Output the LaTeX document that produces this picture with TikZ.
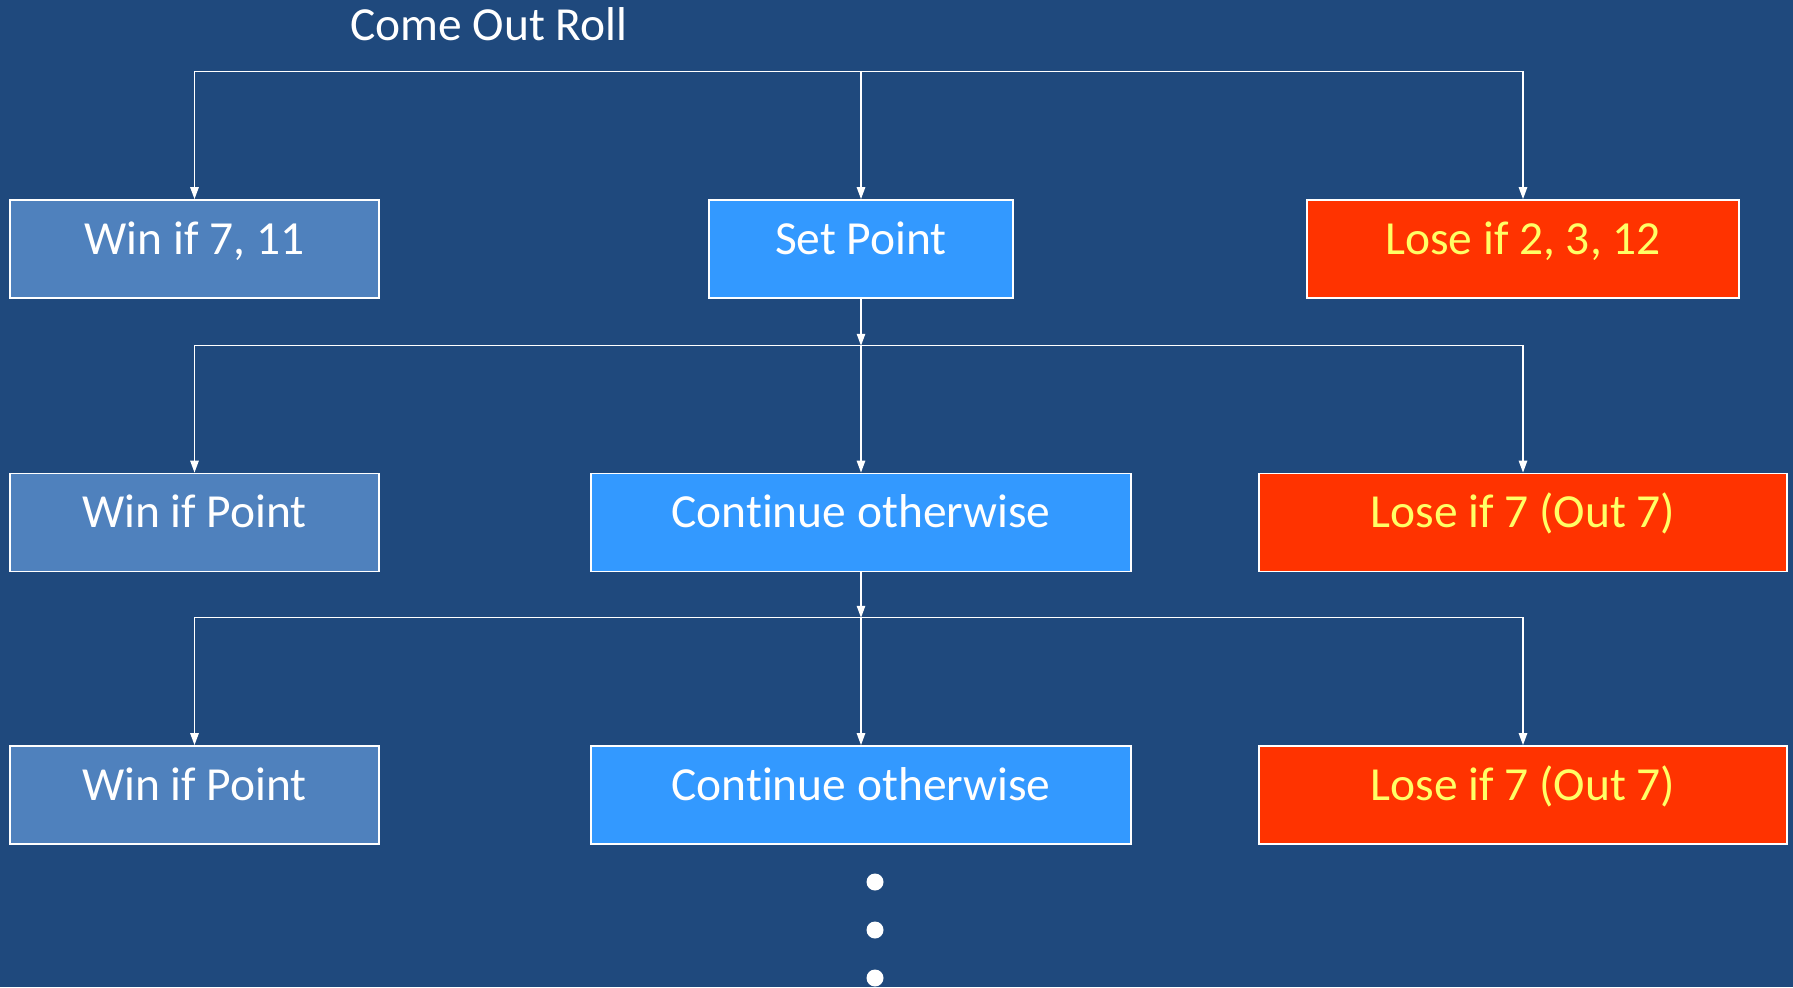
\documentclass[tikz,border=0pt]{standalone}
\usepackage{fontspec}
\setmainfont{Carlito}[Ligatures=NoCommon]
\usetikzlibrary{arrows.meta}
\definecolor{slide}{HTML}{1F497D}
\definecolor{winblue}{HTML}{4F81BD}
\definecolor{pointblue}{HTML}{3399FF}
\definecolor{losered}{HTML}{FF3300}
\definecolor{loseyellow}{HTML}{FFFF66}
\begin{document}
\begin{tikzpicture}
[
    x=0.01cm, y=-0.01cm,
    font=\fontsize{13.5}{16}\selectfont,
    box/.style={draw=white, line width=0.5pt, inner sep=0pt,
        text height=0.32cm, text depth=0.22cm, minimum height=0.98cm},
    win/.style={box, fill=winblue, text=white, minimum width=3.69cm},
    go/.style={box, fill=pointblue, text=white},
    lose/.style={box, fill=losered, text=loseyellow},
    arr/.style={white, line width=0.4pt, -{Triangle[length=3.4pt,width=2.4pt]}},
]
\useasboundingbox (0,0) rectangle (1793,987);
\fill[slide] (0,0) rectangle (1793,987);
\node[text=white, anchor=base, inner sep=0pt] (roll) at (489,40) {Come Out Roll};
% come out roll
\node[win] (win1) at (194.5,249) {Win if 7, 11};
\node[go, minimum width=3.04cm] (set) at (861,249) {Set Point};
\node[lose, minimum width=4.32cm] (lose1) at (1523,249) {Lose if 2, 3, 12};
% point rolls
\node[win] (win2) at (194.5,522.5) {Win if Point};
\node[go, minimum width=5.40cm] (cont2) at (861,522.5) {Continue otherwise};
\node[lose, minimum width=5.28cm] (lose2) at (1523,522.5) {Lose if 7 (Out 7)};
\node[win] (win3) at (194.5,795) {Win if Point};
\node[go, minimum width=5.40cm] (cont3) at (861,795) {Continue otherwise};
\node[lose, minimum width=5.28cm] (lose3) at (1523,795) {Lose if 7 (Out 7)};
\coordinate (bus1) at (861,71.7);
\coordinate (bus2) at (861,345.7);
\coordinate (bus3) at (861,617.7);
\draw[arr] (bus1) -| (win1);
\draw[arr] (bus1) -- (set);
\draw[arr] (bus1) -| (lose1);
\draw[arr] (set) -- (bus2);
\draw[arr] (bus2) -| (win2);
\draw[arr] (bus2) -- (cont2);
\draw[arr] (bus2) -| (lose2);
\draw[arr] (cont2) -- (bus3);
\draw[arr] (bus3) -| (win3);
\draw[arr] (bus3) -- (cont3);
\draw[arr] (bus3) -| (lose3);
\foreach \y in {882,930,978}
    \fill[white] (875,\y) circle[radius=0.085cm];
\end{tikzpicture}
\end{document}
